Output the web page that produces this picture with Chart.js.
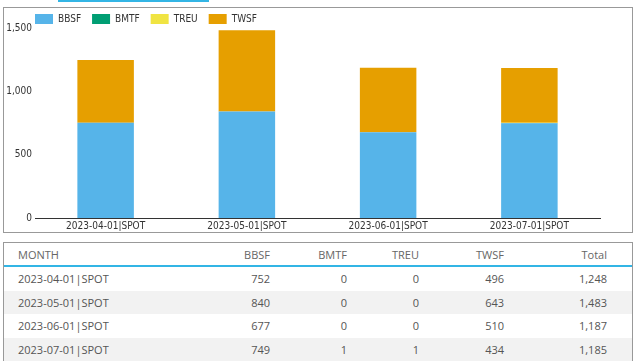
<!DOCTYPE html>
<html>
<head>
<meta charset="utf-8">
<script src="https://cdn.jsdelivr.net/npm/chart.js@4"></script>
<style>
    body { margin: 0; width: 637px; height: 361px; overflow: hidden; background: #fff; position: relative; }
    .tab { position: absolute; left: 58px; top: 0; width: 151px; height: 2px; background: #33b5e5; }
    .box { position: absolute; left: 3px; top: 7px; width: 628px; height: 224px; border: 1px solid #999; }
    #chart { position: absolute; left: 4px; top: 3px; }
    .tablebox { position: absolute; left: 3px; top: 242px; width: 628px; height: 130px; border: 1px solid #999; border-bottom: none; }
    table { border-collapse: collapse; table-layout: fixed; width: 628px; font-family: "Open Sans", sans-serif; font-size: 11px; color: #555; }
    th { font-weight: normal; color: #666; height: 22px; padding: 0; border-bottom: 2px solid #33b5e5; text-align: right; }
    td { padding: 0; height: 23.5px; text-align: right; }
    th:first-child, td:first-child { text-align: left; padding-left: 14px; }
    tbody tr:nth-child(even) { background: #f2f2f2; }
</style>
</head>
<body>
<div class="tab"></div>
<div class="box"></div>
<canvas id="chart" width="627" height="228"></canvas>
<div class="tablebox">
    <table>
        <colgroup>
            <col style="width:196px"><col style="width:70px"><col style="width:77px">
            <col style="width:72px"><col style="width:85px"><col style="width:103px"><col style="width:25px">
        </colgroup>
        <thead id="thead"></thead>
        <tbody id="tbody"></tbody>
    </table>
</div>
<script>
const months = ['2023-04-01|SPOT', '2023-05-01|SPOT', '2023-06-01|SPOT', '2023-07-01|SPOT'];
const bbsf = [752, 840, 677, 749];
const bmtf = [0, 0, 0, 1];
const treu = [0, 0, 0, 1];
const twsf = [496, 643, 510, 434];
const yTicks = [0, 500, 1000, 1500];

const seriesNames = ['BBSF', 'BMTF', 'TREU', 'TWSF'];
const seriesData = [bbsf, bmtf, treu, twsf];
const seriesColors = ['#56b4e9', '#009e73', '#f0e442', '#e69f00'];

const fmt = v => v.toLocaleString('en-US');

// table under the chart
let head = '<tr><th>MONTH</th>';
seriesNames.forEach(n => { head += `<th>${n}</th>`; });
head += '<th>Total</th><th></th></tr>';
document.getElementById('thead').innerHTML = head;

let body = '';
months.forEach((m, i) => {
    let total = 0;
    body += `<tr><td>${m}</td>`;
    seriesData.forEach(arr => {
        total += arr[i];
        body += `<td>${fmt(arr[i])}</td>`;
    });
    body += `<td>${fmt(total)}</td><td></td></tr>`;
});
document.getElementById('tbody').innerHTML = body;

const font = { family: '"DejaVu Sans Condensed", "DejaVu Sans", sans-serif', size: 10 };

// shrink the legend box so the plot starts close under it, and push it right
const legendFix = {
    id: 'legendFix',
    afterInit(chart) {
        const lg = chart.legend;
        const orig = lg.fit;
        lg.fit = function() {
            orig.call(this);
            this.height = 25;
        };
    },
    afterLayout(chart) {
        chart.legend.left += 20;
    }
};

new Chart(document.getElementById('chart'), {
    type: 'bar',
    data: {
        labels: months,
        datasets: seriesNames.map((n, i) => ({
            label: n,
            data: seriesData[i],
            backgroundColor: seriesColors[i],
            borderWidth: 0,
            barPercentage: 0.4,
            categoryPercentage: 1
        }))
    },
    options: {
        responsive: false,
        animation: false,
        layout: { padding: { left: 0, right: 31, top: 0, bottom: 0 } },
        plugins: {
            legend: {
                align: 'start',
                labels: { boxWidth: 18, boxHeight: 10, padding: 11, color: '#333', font: font }
            },
            tooltip: { enabled: false }
        },
        scales: {
            x: {
                stacked: true,
                grid: { display: false, drawTicks: false },
                border: { display: true, color: '#333', width: 1 },
                ticks: { color: '#333', font: font, padding: 2, maxRotation: 0 },
                afterFit: s => { s.height = 13; }
            },
            y: {
                stacked: true,
                min: 0,
                max: 1500,
                afterBuildTicks: s => { s.ticks = yTicks.map(v => ({ value: v })); },
                grid: { display: false, drawTicks: false },
                border: { display: false },
                ticks: { color: '#333', font: font, padding: 3, callback: v => fmt(v) },
                afterFit: s => { s.width = 31; }
            }
        }
    },
    plugins: [legendFix]
});
</script>
</body>
</html>
